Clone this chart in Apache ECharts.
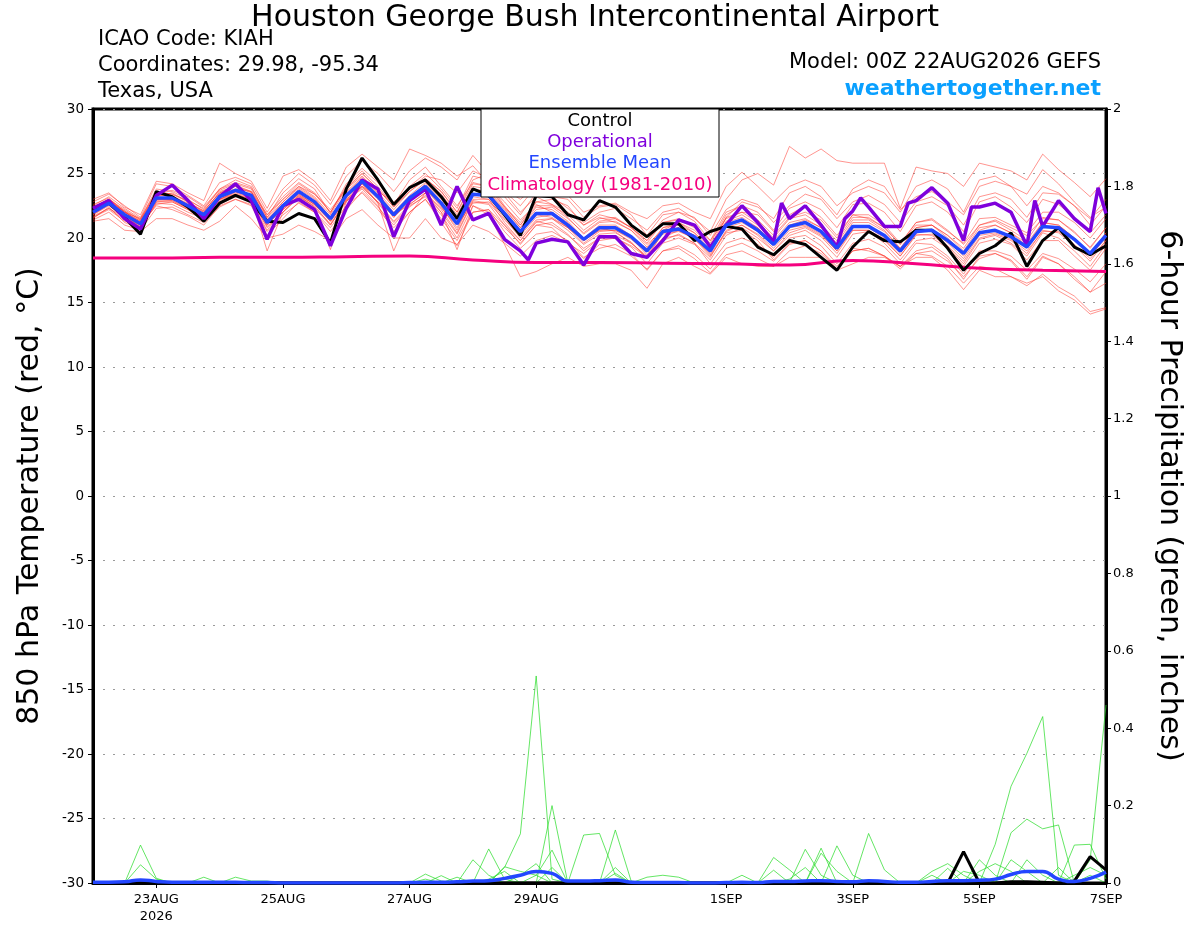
<!DOCTYPE html>
<html>
<head>
<meta charset="utf-8">
<title>KIAH GEFS 850 hPa plume</title>
<script src="https://cdn.jsdelivr.net/npm/echarts@6/dist/echarts.min.js"></script>
<style>
    html, body { margin: 0; padding: 0; background: #fff; }
    #plume-chart { width: 1200px; height: 927px; }
</style>
</head>
<body>
<div id="plume-chart"></div>
<script>
// 6-hourly steps from 00Z 22AUG2026 (65 steps = 16 days)
var stepHours = 6;

// x axis labels (hour since start -> text)
var xLabelHours = [24, 72, 120, 168, 240, 288, 336, 384];
var xLabelTexts = ['23AUG\n2026', '25AUG', '27AUG', '29AUG', '1SEP', '3SEP', '5SEP', '7SEP'];

// 850 hPa temperature, ensemble members (deg C)
var tempMembers = [
    [22.5, 23.2, 22.3, 21.5, 23.8, 23.6, 23.0, 22.2, 23.8, 24.3, 23.9,
     21.8, 23.2, 24.3, 23.5, 22.0, 24.0, 25.2, 24.0, 22.5, 24.0, 25.0,
     23.8, 22.3, 24.8, 24.5, 23.2, 21.8, 23.5, 23.2, 22.3, 21.2, 22.0,
     22.3, 21.5, 20.6, 22.0, 22.3, 21.5, 20.5, 23.0, 24.5, 25.0, 24.1,
     27.1, 26.2, 26.9, 26.0, 25.8, 25.8, 25.8, 22.3, 25.5, 25.2, 25.0,
     24.0, 25.8, 25.5, 25.2, 24.5, 26.5, 25.3, 24.3, 23.2, 24.6],
    [21.4, 22.0, 21.0, 20.6, 22.3, 22.4, 21.8, 21.2, 22.4, 23.0, 22.6,
     20.5, 21.8, 22.7, 22.0, 20.8, 22.5, 23.5, 22.2, 20.8, 22.0, 23.0,
     21.5, 19.8, 22.0, 22.2, 20.5, 19.2, 20.3, 20.5, 19.8, 18.5, 19.2,
     19.5, 18.8, 17.5, 19.0, 19.4, 18.7, 17.6, 19.2, 19.6, 19.0, 18.2,
     19.5, 19.8, 19.0, 17.8, 19.2, 19.0, 18.6, 17.8, 18.8, 18.6, 17.8,
     16.5, 17.8, 17.6, 17.0, 16.3, 17.2, 16.2, 15.5, 14.3, 14.6],
    [22.8, 23.4, 22.5, 21.6, 24.2, 24.0, 23.3, 22.5, 24.3, 24.7, 24.2,
     22.0, 23.8, 25.0, 24.1, 22.6, 24.8, 26.0, 25.0, 23.6, 25.2, 26.2,
     25.5, 24.5, 26.4, 25.0, 23.6, 22.5, 24.0, 23.2, 23.0, 21.6, 22.4,
     22.6, 21.8, 20.2, 21.8, 22.0, 21.3, 19.8, 21.5, 22.0, 21.8, 20.5,
     21.8, 22.5, 21.6, 20.2, 21.8, 21.5, 20.8, 19.5, 21.2, 21.5, 20.6,
     19.5, 21.0, 21.4, 20.8, 20.2, 21.5, 21.4, 20.5, 19.2, 20.8],
    [21.6, 22.3, 21.4, 20.8, 22.7, 22.6, 22.0, 21.5, 22.8, 23.3, 22.8,
     20.9, 22.0, 23.1, 22.3, 21.0, 22.8, 24.0, 22.7, 21.2, 22.4, 23.3,
     22.0, 20.3, 22.8, 22.6, 21.0, 19.5, 21.0, 21.2, 20.3, 19.0, 20.0,
     20.0, 19.3, 18.0, 19.6, 20.0, 19.5, 18.3, 20.2, 20.8, 20.0, 19.0,
     20.2, 20.6, 19.8, 18.5, 20.3, 20.5, 19.6, 18.3, 19.8, 20.0, 19.2,
     17.8, 19.6, 19.9, 19.5, 18.3, 19.8, 19.8, 18.6, 17.5, 19.2],
    [22.3, 23.0, 22.0, 21.3, 23.5, 23.4, 22.8, 22.0, 23.6, 24.0, 23.6,
     21.5, 22.8, 24.0, 23.2, 21.8, 23.8, 25.0, 23.8, 22.4, 23.8, 24.8,
     24.5, 23.5, 25.2, 24.6, 23.8, 23.0, 24.0, 23.5, 23.3, 22.0, 22.5,
     22.7, 22.0, 21.5, 22.5, 22.7, 22.0, 21.5, 24.0, 25.1, 24.0, 22.8,
     24.0, 24.5, 24.0, 22.5, 23.5, 24.0, 23.5, 22.0, 24.0, 24.5, 23.8,
     22.0, 24.5, 24.8, 24.0, 22.5, 24.0, 23.5, 22.5, 21.5, 23.0],
    [21.8, 22.6, 21.5, 21.0, 22.5, 22.2, 21.7, 21.0, 22.5, 23.0, 22.5,
     20.2, 21.5, 22.8, 22.0, 20.5, 22.2, 23.6, 22.4, 21.0, 22.5, 23.2,
     21.8, 20.0, 22.5, 22.0, 20.8, 19.6, 21.0, 20.8, 19.6, 18.4, 19.5,
     19.2, 18.6, 17.6, 19.0, 19.2, 18.4, 17.3, 18.7, 19.0, 18.4, 17.8,
     19.0, 19.4, 18.8, 17.6, 19.0, 19.2, 18.6, 17.8, 19.0, 19.3, 18.4,
     16.8, 18.6, 18.8, 18.2, 16.8, 18.5, 18.0, 16.8, 15.8, 17.4],
    [22.4, 23.0, 22.2, 21.4, 23.4, 23.7, 23.2, 22.4, 23.8, 24.5, 24.0,
     21.6, 23.5, 24.6, 23.8, 21.9, 24.2, 25.4, 24.3, 22.6, 24.5, 25.5,
     24.0, 22.5, 24.3, 24.0, 22.4, 21.0, 22.5, 22.5, 21.8, 20.6, 21.5,
     21.6, 20.8, 19.6, 21.2, 21.4, 20.8, 19.6, 21.8, 22.5, 22.0, 20.6,
     22.3, 22.8, 22.2, 20.8, 22.6, 22.7, 22.0, 20.5, 22.5, 22.8, 22.0,
     20.5, 22.8, 23.2, 22.4, 21.2, 23.0, 22.6, 21.6, 20.4, 21.8],
    [21.5, 22.4, 21.2, 20.7, 22.8, 22.8, 22.2, 21.4, 22.6, 23.2, 22.8,
     20.6, 22.2, 23.2, 22.4, 21.1, 22.9, 23.8, 22.5, 20.5, 22.0, 23.0,
     21.2, 19.4, 22.0, 22.2, 21.0, 19.8, 21.2, 21.5, 20.8, 19.8, 20.6,
     20.8, 20.0, 18.7, 20.3, 20.5, 20.0, 18.7, 20.5, 21.0, 20.2, 19.0,
     20.4, 20.8, 20.1, 18.8, 20.6, 20.6, 19.8, 18.6, 20.3, 20.2, 19.3,
     18.0, 19.9, 20.2, 19.6, 18.6, 20.4, 20.0, 19.0, 17.8, 19.5],
    [22.6, 23.1, 22.0, 21.2, 23.0, 23.0, 22.6, 22.0, 23.0, 23.6, 23.4,
     21.0, 22.3, 23.5, 22.8, 21.3, 23.0, 24.0, 23.3, 21.9, 23.0, 24.2,
     23.0, 21.4, 23.4, 23.5, 22.2, 20.8, 22.2, 22.4, 21.5, 20.4, 21.3,
     21.5, 20.8, 19.8, 21.2, 21.5, 20.9, 19.8, 22.0, 22.5, 21.4, 20.2,
     21.6, 22.0, 21.4, 20.0, 21.8, 21.8, 21.0, 19.6, 21.2, 21.4, 20.5,
     19.6, 21.5, 21.6, 21.0, 20.4, 22.0, 22.0, 21.2, 20.0, 21.5],
    [21.8, 22.5, 21.6, 21.0, 23.0, 22.9, 22.3, 21.6, 23.0, 23.6, 23.1,
     19.0, 22.0, 23.3, 22.4, 19.1, 22.8, 24.2, 22.7, 19.0, 21.8, 23.5,
     22.0, 19.1, 22.5, 21.8, 19.5, 17.0, 17.4, 18.0, 18.5, 17.8, 18.0,
     18.0, 17.5, 16.1, 18.0, 18.5, 17.8, 17.2, 18.5, 18.0, 17.8, 17.8,
     18.5, 18.5, 18.5, 17.5, 18.0, 18.5, 18.5, 17.8, 18.5, 18.5, 17.5,
     16.0, 17.5, 17.0, 17.0, 16.5, 17.0, 15.9, 15.2, 14.1, 14.5],
    [23.0, 23.5, 22.4, 21.8, 24.4, 24.2, 23.5, 22.9, 25.8, 25.0, 24.4,
     22.3, 24.8, 25.3, 24.4, 22.9, 25.5, 26.5, 25.5, 24.5, 26.9, 26.4,
     25.8, 24.8, 25.6, 24.2, 22.5, 21.0, 22.8, 23.0, 22.5, 21.0, 21.8,
     21.5, 20.8, 19.8, 21.4, 22.0, 21.6, 20.2, 22.2, 23.0, 22.6, 21.2,
     22.5, 23.4, 23.0, 21.5, 22.8, 23.3, 22.6, 21.2, 22.8, 23.2, 22.5,
     21.0, 23.2, 23.5, 23.0, 21.6, 23.5, 23.4, 22.5, 21.0, 22.5],
    [21.3, 21.5, 20.6, 20.5, 21.5, 21.5, 21.0, 20.6, 21.3, 22.5, 21.5,
     20.0, 20.3, 21.0, 20.5, 19.8, 21.5, 22.2, 21.0, 20.0, 20.0, 21.5,
     20.0, 19.5, 21.0, 20.5, 19.6, 18.6, 19.8, 20.2, 19.6, 18.8, 19.8,
     20.0, 19.4, 18.5, 19.8, 20.3, 19.6, 18.0, 19.6, 20.0, 19.5, 18.5,
     20.0, 20.2, 19.4, 18.0, 19.6, 19.9, 19.3, 18.0, 19.6, 19.5, 18.6,
     17.2, 19.0, 19.0, 18.6, 17.5, 18.8, 18.4, 17.6, 16.6, 18.0],
    [22.2, 22.9, 22.0, 21.3, 23.3, 23.3, 22.6, 21.9, 23.4, 24.0, 23.5,
     21.4, 22.6, 23.8, 23.0, 21.6, 23.5, 24.6, 23.4, 22.0, 23.3, 24.3,
     23.2, 21.6, 23.8, 23.6, 22.3, 20.8, 22.4, 22.2, 21.3, 20.0, 21.0,
     21.0, 20.2, 19.0, 20.8, 21.0, 20.4, 19.3, 21.3, 21.8, 21.0, 19.8,
     21.2, 21.5, 20.8, 19.4, 21.2, 21.2, 20.5, 19.2, 20.8, 21.0, 20.2,
     19.0, 20.8, 21.0, 20.4, 19.6, 21.2, 21.0, 20.0, 18.8, 20.4],
    [21.9, 22.6, 21.7, 21.0, 23.0, 23.0, 22.4, 21.7, 23.0, 23.5, 23.1,
     21.0, 22.3, 23.4, 22.6, 21.3, 23.1, 24.2, 23.0, 21.6, 22.9, 23.8,
     22.4, 20.8, 23.0, 23.0, 21.5, 20.0, 21.4, 21.5, 20.6, 19.5, 20.3,
     20.4, 19.7, 18.4, 20.0, 20.2, 19.6, 18.5, 20.6, 21.0, 20.3, 19.2,
     20.6, 20.9, 20.2, 19.0, 20.6, 20.6, 19.9, 18.6, 20.2, 20.3, 19.4,
     18.2, 20.0, 20.3, 19.8, 18.8, 20.6, 20.4, 19.4, 18.2, 19.8],
    [22.1, 22.8, 22.0, 21.5, 23.6, 23.2, 22.7, 22.1, 23.5, 23.8, 23.6,
     21.8, 23.0, 24.0, 23.4, 22.2, 23.8, 24.8, 23.6, 22.8, 23.8, 24.6,
     23.6, 22.0, 24.5, 25.0, 23.5, 22.0, 23.2, 22.6, 22.0, 21.0, 21.6,
     21.2, 20.6, 19.5, 20.6, 21.2, 20.4, 19.0, 21.6, 22.8, 22.4, 21.5,
     23.5, 24.0, 23.2, 21.8, 23.8, 24.5, 24.0, 22.2, 23.2, 23.6, 22.8,
     21.8, 24.0, 24.4, 24.0, 23.4, 25.3, 24.2, 22.8, 21.6, 22.4],
    [22.0, 22.6, 21.8, 21.1, 22.9, 23.0, 22.5, 21.8, 23.2, 23.6, 23.2,
     21.1, 22.4, 23.4, 22.6, 21.4, 23.2, 24.3, 23.1, 21.6, 22.8, 23.8,
     22.5, 20.6, 23.2, 23.0, 21.2, 19.8, 21.3, 21.0, 20.2, 19.2, 20.0,
     20.2, 19.6, 18.6, 20.0, 20.6, 19.9, 18.6, 20.4, 20.6, 19.8, 18.3,
     19.6, 19.8, 19.0, 17.6, 19.0, 19.2, 18.6, 17.6, 18.8, 19.0, 18.2,
     17.0, 18.4, 18.8, 18.3, 17.0, 18.6, 18.0, 17.0, 15.8, 16.5],
    [22.3, 22.8, 22.1, 21.0, 23.2, 23.5, 22.8, 22.1, 23.5, 24.1, 23.6,
     21.3, 22.8, 23.9, 23.1, 21.6, 23.6, 24.7, 23.5, 22.2, 23.6, 24.5,
     23.4, 21.8, 24.0, 23.8, 22.4, 21.2, 22.8, 22.6, 21.6, 20.3, 21.2,
     21.3, 20.6, 19.3, 20.8, 21.2, 20.6, 19.4, 21.6, 22.0, 21.2, 20.0,
     21.5, 21.8, 21.0, 19.8, 21.6, 21.6, 20.8, 19.5, 21.0, 21.0, 20.2,
     19.2, 21.0, 21.3, 20.6, 19.8, 21.6, 21.4, 20.4, 19.3, 20.8],
    [21.7, 22.3, 21.6, 20.9, 22.6, 22.8, 22.2, 21.5, 22.9, 23.4, 23.0,
     20.8, 22.0, 23.2, 22.5, 21.0, 22.9, 23.9, 22.8, 21.3, 22.6, 23.5,
     22.2, 20.4, 22.9, 22.7, 21.4, 20.2, 21.6, 21.8, 20.8, 19.6, 20.5,
     20.6, 19.9, 18.9, 20.4, 20.6, 20.0, 18.8, 21.0, 21.4, 20.8, 19.5,
     21.0, 21.2, 20.6, 19.2, 20.9, 20.9, 20.2, 19.0, 20.6, 20.6, 19.8,
     18.6, 20.4, 20.6, 20.2, 19.2, 20.8, 20.8, 19.8, 18.6, 20.0],
    [22.4, 23.0, 22.1, 21.4, 23.6, 23.4, 22.9, 22.3, 23.7, 24.2, 23.8,
     21.6, 23.0, 24.2, 23.4, 22.0, 23.9, 25.0, 23.8, 22.4, 23.6, 24.6,
     23.6, 22.0, 24.2, 24.0, 22.8, 21.4, 22.6, 22.0, 21.2, 19.8, 20.8,
     20.5, 19.6, 18.5, 20.4, 20.8, 20.2, 19.0, 21.2, 21.6, 20.8, 19.5,
     21.0, 21.4, 20.8, 19.6, 21.4, 21.4, 20.6, 19.2, 20.8, 21.0, 20.0,
     18.8, 20.6, 21.0, 20.4, 19.4, 21.2, 21.0, 20.0, 18.6, 20.4],
    [21.6, 22.2, 21.3, 20.9, 22.8, 22.9, 22.3, 21.6, 23.0, 23.4, 23.0,
     21.4, 22.2, 23.3, 22.6, 21.3, 23.0, 24.0, 22.8, 21.8, 22.6, 23.5,
     22.3, 21.0, 22.7, 22.8, 21.8, 20.6, 21.8, 21.6, 20.8, 19.8, 20.6,
     20.6, 20.0, 19.2, 20.6, 20.8, 20.2, 19.0, 20.8, 21.2, 20.5, 19.4,
     20.8, 21.0, 20.3, 19.0, 20.8, 20.8, 20.0, 18.8, 20.4, 20.6, 19.6,
     18.4, 20.2, 20.4, 19.9, 19.0, 20.5, 20.5, 19.5, 18.4, 19.8]
];

// control run
var tempControl = [
    22.2, 22.7, 21.6, 20.3, 23.6, 23.2, 22.4, 21.3, 22.7, 23.3, 22.8,
    21.3, 21.2, 21.9, 21.5, 19.6, 23.8, 26.2, 24.5, 22.6, 23.9, 24.5,
    23.2, 21.5, 23.8, 23.3, 21.8, 20.2, 23.3, 23.2, 21.8, 21.4, 22.9,
    22.4, 21.0, 20.1, 21.1, 21.1, 19.8, 20.5, 20.9, 20.7, 19.3, 18.7,
    19.8, 19.5, 18.5, 17.5, 19.3, 20.5, 19.8, 19.7, 20.6, 20.6, 19.2,
    17.5, 18.8, 19.4, 20.4, 17.8, 19.8, 20.8, 19.3, 18.7, 19.4
];

// ensemble mean
var tempMean = [
    22.0, 22.7, 21.8, 21.1, 23.1, 23.1, 22.5, 21.8, 23.2, 23.7, 23.3,
    21.2, 22.5, 23.6, 22.8, 21.5, 23.3, 24.4, 23.2, 21.8, 23.1, 24.0,
    22.7, 21.1, 23.4, 23.3, 21.9, 20.5, 21.9, 21.9, 21.0, 19.9, 20.8,
    20.8, 20.1, 19.0, 20.5, 20.7, 20.1, 19.0, 21.0, 21.4, 20.6, 19.5,
    20.9, 21.2, 20.5, 19.2, 20.9, 20.9, 20.2, 19.0, 20.5, 20.6, 19.8,
    18.8, 20.4, 20.6, 20.1, 19.3, 20.9, 20.8, 19.9, 18.8, 20.2
];

// operational run (3-hourly where it jumps)
var opHours = [
    0, 6, 12, 18, 24, 30, 36, 42, 48, 54, 60, 66, 72, 78, 84, 90, 96, 102, 108, 114, 120, 126,
    132, 138, 144, 150, 156, 162, 165, 168, 174, 180, 186, 192, 198, 204, 210, 216, 222, 228, 234,
    240, 246, 252, 258, 261, 264, 270, 276, 282, 285, 288, 291, 294, 300, 306, 309, 312, 318, 324,
    330, 333, 336, 342, 348, 354, 357, 360, 366, 372, 378, 381, 384
];
var opTemps = [
    22.3, 22.9, 21.5, 20.7, 23.3, 24.1, 22.9, 21.5, 23.2, 24.2, 22.9, 19.9, 22.5, 23.0, 22.2, 19.4, 22.3, 24.5, 23.8, 20.1, 22.9, 23.8,
    21.0, 24.0, 21.4, 21.9, 19.9, 19.0, 18.3, 19.6, 19.9, 19.7, 17.9, 20.1, 20.1, 18.8, 18.5, 19.8, 21.4, 21.0, 19.3,
    21.0, 22.5, 21.2, 19.7, 22.7, 21.5, 22.5, 21.0, 19.3, 21.5, 22.1, 23.1, 22.4, 20.9, 20.9, 22.7, 22.9, 23.9, 22.7,
    19.8, 22.4, 22.4, 22.7, 22.0, 19.4, 22.9, 20.9, 22.9, 21.5, 20.5, 23.9, 21.9
];

// 1981-2010 climatology, daily
var climHours = [0, 24, 48, 72, 96, 120, 144, 168, 192, 216, 240, 264, 288, 312, 336, 360, 384];
var climTemps = [18.45, 18.45, 18.5, 18.5, 18.55, 18.6, 18.3, 18.1, 18.1, 18.05, 18.0, 17.9, 18.25, 18.0, 17.65, 17.5, 17.4];

// 6-hour precipitation (inches), members with rain
var precipMembers = [
    [0, 0, 0, 0.098, 0.012, 0, 0, 0, 0, 0, 0,
     0, 0, 0, 0, 0, 0, 0, 0, 0, 0, 0,
     0, 0, 0, 0, 0.04, 0.127, 0.535, 0.01, 0, 0, 0,
     0, 0, 0, 0, 0, 0, 0, 0, 0, 0, 0,
     0, 0.087, 0.02, 0, 0, 0, 0, 0, 0, 0, 0,
     0, 0, 0.10, 0.25, 0.335, 0.43, 0.02, 0, 0, 0],
    [0, 0, 0, 0.047, 0.01, 0, 0, 0.015, 0, 0, 0,
     0, 0, 0, 0, 0, 0, 0, 0, 0, 0, 0,
     0, 0, 0.06, 0.02, 0, 0, 0, 0.20, 0, 0, 0,
     0.04, 0, 0, 0, 0, 0, 0, 0, 0, 0, 0,
     0, 0, 0, 0, 0, 0.128, 0.034, 0, 0, 0, 0,
     0, 0, 0, 0.13, 0.165, 0.14, 0.15, 0, 0, 0],
    [0, 0, 0, 0, 0, 0, 0, 0, 0, 0.015, 0.005,
     0.005, 0, 0, 0, 0, 0, 0, 0, 0, 0, 0.023,
     0.005, 0, 0, 0.088, 0.01, 0, 0, 0, 0, 0.124, 0.128,
     0.02, 0, 0, 0, 0, 0, 0, 0, 0, 0, 0,
     0, 0, 0, 0.096, 0.02, 0, 0, 0, 0, 0, 0,
     0, 0, 0, 0, 0, 0, 0, 0, 0.06, 0.46],
    [0, 0, 0, 0, 0, 0, 0, 0, 0, 0, 0,
     0, 0, 0, 0, 0, 0, 0, 0, 0, 0, 0,
     0.019, 0, 0, 0, 0.042, 0.03, 0.02, 0.085, 0, 0, 0,
     0.137, 0.005, 0, 0, 0, 0, 0, 0, 0, 0, 0.066,
     0.034, 0, 0, 0, 0, 0, 0, 0, 0, 0, 0,
     0, 0.06, 0.02, 0, 0, 0, 0, 0.098, 0.1, 0.01],
    [0, 0, 0, 0, 0, 0, 0, 0, 0, 0, 0,
     0, 0, 0, 0, 0, 0, 0, 0, 0, 0, 0,
     0, 0.015, 0, 0, 0, 0, 0, 0.04, 0, 0, 0,
     0, 0, 0.015, 0.02, 0.015, 0, 0, 0, 0, 0, 0,
     0, 0, 0.077, 0.03, 0, 0, 0, 0, 0, 0.03, 0.05,
     0.02, 0, 0, 0, 0.06, 0.02, 0, 0, 0.02, 0],
    [0, 0, 0, 0, 0, 0, 0, 0, 0, 0, 0,
     0, 0, 0, 0, 0, 0, 0, 0, 0, 0, 0.01,
     0, 0, 0, 0, 0, 0.02, 0.05, 0, 0, 0, 0,
     0.025, 0, 0, 0, 0, 0, 0, 0, 0.02, 0, 0.033,
     0, 0, 0.09, 0, 0, 0, 0, 0, 0, 0, 0.038,
     0, 0.03, 0.05, 0.03, 0, 0, 0.04, 0, 0, 0],
    [0, 0, 0, 0, 0, 0, 0, 0, 0, 0, 0,
     0, 0, 0, 0, 0, 0, 0, 0, 0, 0, 0,
     0, 0, 0, 0.01, 0.03, 0, 0.02, 0, 0, 0, 0,
     0, 0, 0, 0, 0, 0, 0, 0, 0, 0, 0,
     0.01, 0.04, 0, 0, 0, 0, 0, 0, 0, 0.02, 0,
     0.03, 0.02, 0, 0.06, 0.03, 0, 0, 0.02, 0.04, 0.02]
];

var precipControl = [
    0, 0, 0, 0, 0, 0, 0, 0, 0, 0, 0,
    0, 0, 0, 0, 0, 0, 0, 0, 0, 0, 0,
    0, 0, 0, 0, 0, 0, 0, 0, 0, 0, 0,
    0, 0, 0, 0, 0, 0, 0, 0, 0, 0, 0,
    0, 0, 0, 0, 0, 0, 0, 0, 0, 0, 0,
    0.081, 0, 0, 0.003, 0.003, 0.002, 0, 0.005, 0.068, 0.034
];

var precipMean = [
    0.002, 0.002, 0.003, 0.008, 0.004, 0.002, 0.002, 0.002, 0.002, 0.002, 0.001,
    0.001, 0, 0, 0, 0, 0, 0, 0, 0, 0.001, 0.002,
    0.002, 0.003, 0.005, 0.006, 0.012, 0.02, 0.03, 0.025, 0.005, 0.005, 0.006,
    0.008, 0.002, 0.001, 0.001, 0.001, 0, 0, 0.001, 0.002, 0.001, 0.004,
    0.004, 0.005, 0.006, 0.004, 0.003, 0.006, 0.004, 0.002, 0.002, 0.004, 0.006,
    0.006, 0.007, 0.01, 0.022, 0.03, 0.03, 0.01, 0.004, 0.012, 0.028
];

var FONT = '"DejaVu Sans", "Liberation Sans", Arial, sans-serif';

// 把逐6小时的数组转成 [小时, 值]
function toPoints(values) {
    return values.map(function (v, i) { return [i * stepHours, v]; });
}

function pairPoints(hours, values) {
    return hours.map(function (h, i) { return [h, values[i]]; });
}

function lineSeries(name, data, axis, color, width, z, opts) {
    var s = {
        type: 'line',
        name: name,
        yAxisIndex: axis,
        data: data,
        symbol: 'none',
        silent: true,
        z: z,
        lineStyle: { color: color, width: width }
    };
    if (opts) {
        for (var k in opts) { s[k] = opts[k]; }
    }
    return s;
}

var series = [];
// 降水成员 (绿色细线)
precipMembers.forEach(function (m, k) {
    series.push(lineSeries('precip' + (k + 1), toPoints(m), 1, 'rgba(40,220,40,0.9)', 0.8, 1));
});
// 温度成员 (红色细线)
tempMembers.forEach(function (m, k) {
    series.push(lineSeries('member' + (k + 1), toPoints(m), 0, 'rgba(255,50,40,0.65)', 0.8, 3));
});
series.push(lineSeries('Climatology (1981-2010)', pairPoints(climHours, climTemps), 0, '#f5007f', 3, 4, { smooth: true }));
series.push(lineSeries('Control', toPoints(tempControl), 0, '#000000', 3, 5));
series.push(lineSeries('Operational', pairPoints(opHours, opTemps), 0, '#7f00dc', 3.5, 6));
series.push(lineSeries('Ensemble Mean', toPoints(tempMean), 0, '#2346ff', 3.5, 7));
series.push(lineSeries('Control precip', toPoints(precipControl), 1, '#000000', 3, 5));
series.push(lineSeries('Mean precip', toPoints(precipMean), 1, '#2346ff', 3.5, 7, { smooth: true }));

var myChart = echarts.init(document.getElementById('plume-chart'));

var option = {
    animation: false,
    backgroundColor: '#ffffff',
    grid: {
        left: 93, right: 94, top: 109, bottom: 44,
        show: true, borderColor: '#000', borderWidth: 3, backgroundColor: 'transparent'
    },
    xAxis: {
        type: 'value',
        min: 0,
        max: 384,
        z: 2,
        axisLine: { show: true, onZero: false, lineStyle: { color: '#000', width: 3 } },
        axisTick: { show: true, customValues: xLabelHours, length: 5, lineStyle: { color: '#000', width: 1 } },
        axisLabel: {
            customValues: xLabelHours,
            margin: 8,
            color: '#000',
            fontFamily: FONT,
            fontSize: 13,
            lineHeight: 17,
            formatter: function (value) {
                var i = xLabelHours.indexOf(value);
                return i >= 0 ? xLabelTexts[i] : '';
            }
        },
        splitLine: { show: false }
    },
    yAxis: [
        {
            type: 'value',
            min: -30,
            max: 30,
            interval: 5,
            position: 'left',
            name: '850 hPa Temperature (red, °C)',
            nameLocation: 'middle',
            nameRotate: 90,
            nameGap: 48,
            nameTextStyle: { color: '#000', fontFamily: FONT, fontSize: 30 },
            axisLine: { show: true, lineStyle: { color: '#000', width: 3 } },
            axisTick: { show: true, length: 5, lineStyle: { color: '#000' } },
            axisLabel: { color: '#000', fontFamily: FONT, fontSize: 13.5, margin: 9 },
            splitLine: { show: true, lineStyle: { color: '#9a9a9a', width: 1.2, type: [2, 8] } }
        },
        {
            type: 'value',
            min: 0,
            max: 2,
            interval: 0.2,
            position: 'right',
            name: '6-hour Precipitation (green, inches)',
            nameLocation: 'middle',
            nameRotate: -90,
            nameGap: 48,
            nameTextStyle: { color: '#000', fontFamily: FONT, fontSize: 30 },
            axisLine: { show: true, lineStyle: { color: '#000', width: 3 } },
            axisTick: { show: true, length: 5, lineStyle: { color: '#000' } },
            axisLabel: { color: '#000', fontFamily: FONT, fontSize: 13, margin: 7 },
            splitLine: { show: false }
        }
    ],
    graphic: [
        // 标题
        { type: 'text', x: 595, y: 18, z: 100,
          style: { text: 'Houston George Bush Intercontinental Airport', fill: '#000', font: '30px ' + FONT, textAlign: 'center', textVerticalAlign: 'middle' } },
        { type: 'text', x: 98, y: 40, z: 100,
          style: { text: 'ICAO Code: KIAH', fill: '#000', font: '21px ' + FONT, textVerticalAlign: 'middle' } },
        { type: 'text', x: 98, y: 66, z: 100,
          style: { text: 'Coordinates: 29.98, -95.34', fill: '#000', font: '21px ' + FONT, textVerticalAlign: 'middle' } },
        { type: 'text', x: 98, y: 92, z: 100,
          style: { text: 'Texas, USA', fill: '#000', font: '21px ' + FONT, textVerticalAlign: 'middle' } },
        { type: 'text', x: 1101, y: 63, z: 100,
          style: { text: 'Model: 00Z 22AUG2026 GEFS', fill: '#000', font: '21px ' + FONT, textAlign: 'right', textVerticalAlign: 'middle' } },
        { type: 'text', x: 1101, y: 89, z: 100,
          style: { text: 'weathertogether.net', fill: '#0aa0ff', font: 'bold 22px ' + FONT, textAlign: 'right', textVerticalAlign: 'middle' } },
        // 图例框
        { type: 'rect', z: 100,
          shape: { x: 481, y: 109, width: 238, height: 88 },
          style: { fill: '#fff', stroke: '#000', lineWidth: 1 } },
        { type: 'text', x: 600, y: 121, z: 101,
          style: { text: 'Control', fill: '#000', font: '18px ' + FONT, textAlign: 'center', textVerticalAlign: 'middle' } },
        { type: 'text', x: 600, y: 142, z: 101,
          style: { text: 'Operational', fill: '#7f00dc', font: '18px ' + FONT, textAlign: 'center', textVerticalAlign: 'middle' } },
        { type: 'text', x: 600, y: 163, z: 101,
          style: { text: 'Ensemble Mean', fill: '#2346ff', font: '18px ' + FONT, textAlign: 'center', textVerticalAlign: 'middle' } },
        { type: 'text', x: 600, y: 185, z: 101,
          style: { text: 'Climatology (1981-2010)', fill: '#f5007f', font: '18px ' + FONT, textAlign: 'center', textVerticalAlign: 'middle' } }
    ],
    series: series
};

myChart.setOption(option, true);
</script>
</body>
</html>
